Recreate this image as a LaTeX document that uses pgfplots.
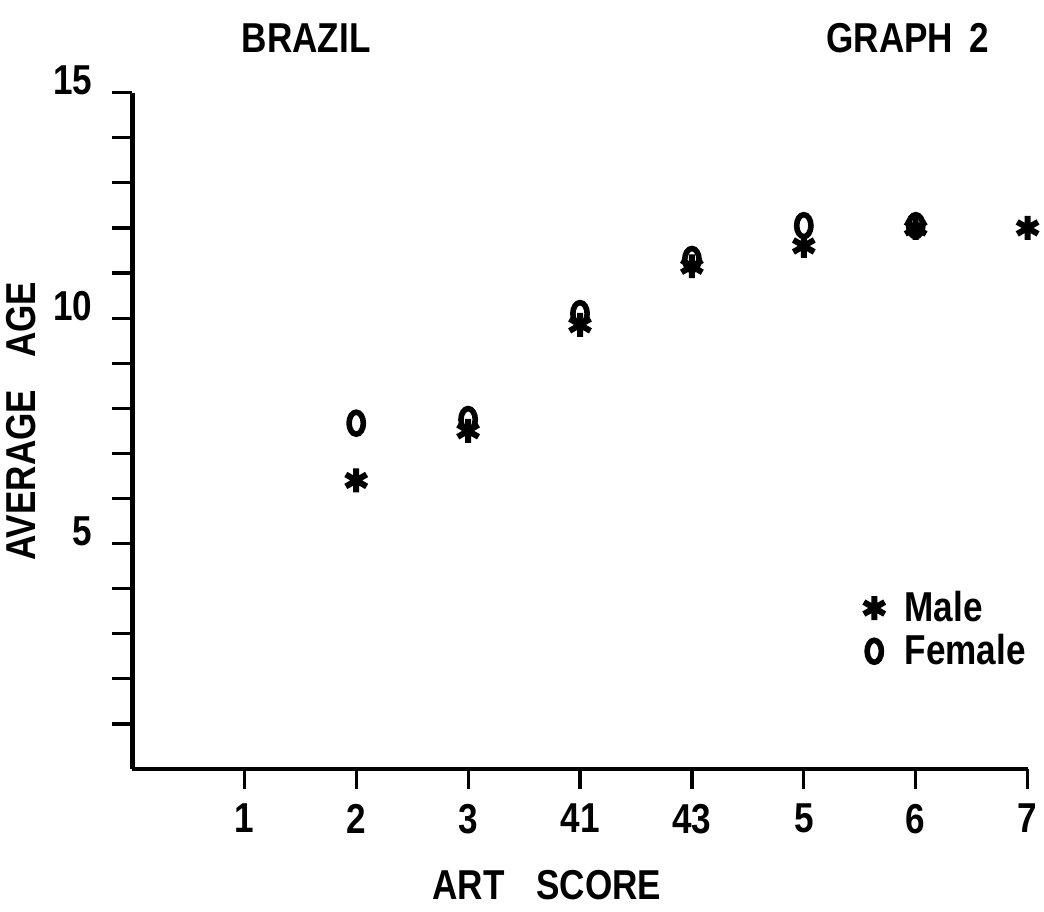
\documentclass[border=0pt]{standalone}
\usepackage{pgfplots}
\pgfplotsset{compat=1.18}
\usepackage{fontspec}
\setmainfont{Liberation Sans}[FakeStretch=0.84]

% male (*) and female (o) average age per art score, categories at 1..8
\pgfplotstableread{
x y
2 6.4
3 7.5
4 9.85
5 11.15
6 11.6
7 12.0
8 12.0
}\male
\pgfplotstableread{
x y
2 7.67
3 7.75
4 10.1
5 11.3
6 12.05
7 12.05
}\female

\newcommand{\bigfont}{\fontsize{21}{24}\selectfont\bfseries}

\begin{document}
\begin{tikzpicture}
\begin{axis}[
  width=448bp, height=338.5bp, scale only axis,
  xmin=0, xmax=8, ymin=0, ymax=15,
  clip=false,
  axis lines=left,
  axis line style={line width=2.2bp, -},
  xtick={1,...,8}, xticklabels={1,2,3,41,43,5,6,7},
  ytick={1,...,15}, yticklabels={,,,,5,,,,,10,,,,,15},
  tick align=outside, major tick length=10bp,
  tick style={line width=1.6bp, black},
  ticklabel style={font=\bigfont},
  /pgf/number format/assume math mode=true,
  xticklabel style={yshift=-4bp},
  yticklabel style={anchor=east, xshift=-6.5bp, yshift=6bp},
  xlabel={ART\hspace{16bp}SCORE}, ylabel={AVERAGE\hspace{16bp}AGE},
  label style={font=\bigfont},
  xlabel style={at={(axis description cs:0.463,-0.171)}, anchor=center},
  ylabel style={at={(axis description cs:-0.124,0.514)}, anchor=center},
  legend style={draw=none, fill=none, font=\bigfont,
    at={(rel axis cs:0.81,0.275)}, anchor=north west,
    column sep=8bp, row sep=1bp},
  legend cell align=left,
]
\addplot[only marks, mark=asterisk, mark size=6bp,
  mark options={line width=3bp, black}] table {\male};
\addlegendentry{Male}
\addplot[only marks, mark=o, mark size=5.5bp,
  mark options={line width=2.8bp, black, xscale=0.65}] table {\female};
\addlegendentry{Female}

\node[font=\bigfont] at (rel axis cs:0.194,1.081) {BRAZIL};
\node[font=\bigfont] at (rel axis cs:0.866,1.081) {GRAPH\hspace{8bp}2};
\path (rel axis cs:-0.147,-0.211) rectangle (rel axis cs:1.018,1.137);
\end{axis}
\end{tikzpicture}
\end{document}
